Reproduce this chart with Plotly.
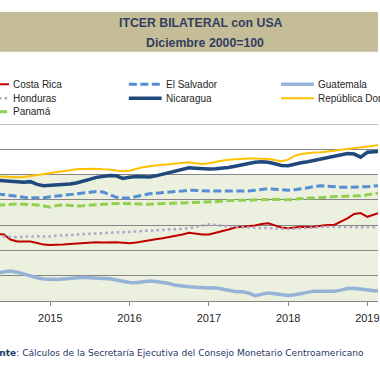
import plotly.graph_objects as go
import pandas as pd

# Monthly dates (May 2014 - Mar 2019)
dates = pd.date_range("2014-05-01", "2019-03-01", freq="MS")

costa_rica = [76.5, 76.3, 74.3, 73.5, 73.5, 73.5, 72.9, 72.3, 72.1, 72.1, 72.3, 72.5, 72.7, 72.9, 73.1, 73.2,
              73.1, 73.2, 73.2, 73.0, 72.8, 73.1, 73.6, 74.1, 74.4, 74.8, 75.2, 75.7, 76.3, 77.0, 76.7, 76.3,
              76.3, 76.9, 77.4, 78.3, 79.1, 79.4, 79.4, 79.9, 80.5, 80.7, 79.9, 79.1, 78.8, 79.1, 79.4, 79.3,
              79.4, 79.8, 80.1, 80.1, 81.3, 82.7, 84.4, 84.8, 83.3, 84.1, 85.0]
el_salvador = [92.4, 92.0, 91.6, 91.2, 91.0, 90.8, 90.7, 90.8, 91.2, 91.5, 91.8, 92.0, 92.3, 92.6, 93.0, 93.3,
               93.1, 92.0, 91.0, 90.7, 90.7, 91.3, 91.9, 92.4, 92.6, 92.8, 92.9, 93.2, 93.5, 93.8, 93.6, 93.5,
               93.5, 93.5, 93.5, 93.5, 93.5, 93.5, 93.5, 93.8, 94.2, 94.4, 94.2, 94.0, 93.8, 94.0, 94.3, 94.8,
               95.3, 95.6, 95.4, 95.1, 95.0, 95.0, 95.0, 95.0, 95.2, 95.5, 95.6]
guatemala = [61.1, 61.6, 61.9, 61.4, 60.6, 59.9, 59.2, 58.7, 58.5, 58.5, 58.7, 59.0, 59.4, 59.4, 59.2, 58.9,
             58.9, 58.8, 58.3, 57.7, 57.3, 57.2, 57.7, 57.9, 57.7, 57.4, 56.9, 56.2, 55.8, 55.6, 55.4, 55.1,
             55.1, 55.2, 54.7, 54.1, 53.8, 53.7, 53.2, 52.1, 52.5, 53.2, 52.9, 52.5, 52.2, 52.5, 53.0, 53.5,
             53.9, 53.9, 53.9, 53.9, 54.3, 54.9, 55.0, 54.6, 54.3, 54.1, 54.0]
honduras = [75.7, 75.5, 75.1, 75.2, 75.4, 75.6, 75.6, 75.5, 75.5, 75.8, 76.0, 76.2, 76.4, 76.5, 76.6, 76.7,
            76.8, 76.9, 77.0, 77.2, 77.4, 77.5, 77.7, 77.8, 77.9, 78.1, 78.3, 78.4, 78.6, 78.8, 79.3, 79.9,
            80.3, 80.1, 79.7, 79.4, 79.3, 79.2, 79.0, 78.9, 78.8, 78.8, 78.7, 78.6, 78.5, 78.6, 78.8, 79.0,
            79.2, 79.3, 79.4, 79.3, 79.2, 79.2, 79.2, 79.2, 79.2, 79.2, 79.2]
nicaragua = [97.7, 97.5, 97.1, 96.9, 97.0, 97.2, 96.1, 95.6, 95.7, 95.9, 96.0, 96.3, 96.7, 97.3, 98.1, 98.9,
             99.3, 99.6, 99.5, 98.5, 98.9, 99.2, 99.1, 99.0, 99.5, 100.1, 100.6, 101.3, 102.1, 102.7, 102.5, 102.2,
             102.2, 102.3, 102.5, 102.8, 103.3, 103.9, 104.6, 104.9, 105.1, 104.9, 104.3, 103.6, 103.5, 104.2, 104.7, 105.1,
             105.6, 106.2, 106.8, 107.4, 107.9, 108.3, 108.1, 106.9, 108.8, 109.0, 109.2]
rep_dom = [99.3, 99.1, 99.0, 98.9, 99.0, 99.4, 99.8, 100.3, 100.7, 101.1, 101.5, 101.8, 102.1, 102.2, 102.3, 102.3,
           102.1, 102.0, 101.6, 101.3, 101.5, 102.3, 102.9, 103.3, 103.7, 103.9, 104.1, 104.3, 104.5, 104.9, 104.5, 104.2,
           104.5, 105.1, 105.5, 105.9, 106.1, 106.3, 106.4, 106.4, 106.3, 106.2, 105.8, 105.3, 105.9, 107.5, 108.1, 108.5,
           108.7, 108.8, 109.0, 109.4, 109.8, 110.1, 110.3, 110.5, 110.8, 111.4, 111.8]
panama = [87.9, 88.1, 88.3, 88.4, 88.3, 88.2, 88.0, 87.6, 87.1, 87.8, 88.0, 87.8, 87.6, 87.7, 87.9, 88.0,
          88.2, 88.4, 88.6, 88.6, 88.4, 88.3, 88.3, 88.3, 88.4, 88.5, 88.6, 88.7, 88.8, 88.8, 88.8, 88.9,
          89.0, 89.2, 89.4, 89.7, 89.8, 89.9, 90.0, 90.1, 90.2, 90.3, 90.2, 90.1, 90.0, 90.3, 90.5, 90.7,
          90.8, 90.9, 91.1, 91.3, 91.4, 91.6, 91.6, 91.6, 92.0, 92.4, 92.7]

series = [
    ("Costa Rica", costa_rica, "#C00000", 2, "solid"),
    ("El Salvador", el_salvador, "#558ED5", 3, "8px,3.5px"),
    ("Guatemala", guatemala, "#95B3D7", 3.5, "solid"),
    ("Honduras", honduras, "#B3A2C7", 2.5, "2.5px,3.2px"),
    ("Nicaragua", nicaragua, "#1F497D", 3.5, "solid"),
    ("República Dominicana", rep_dom, "#FFC000", 2, "solid"),
    ("Panamá", panama, "#92D050", 3, "8px,3.5px"),
]

year_ticks = ["2015-01-01", "2016-01-01", "2017-01-01", "2018-01-01", "2019-01-01"]
year_labels = ["2015", "2016", "2017", "2018", "2019"]

W, H = 380, 372
T, B = 124, 71
PH = H - T - B


def px_x(px):
    return px / W


def px_y(py):
    return (H - B - py) / PH


fig = go.Figure()
for name, vals, color, width, dash in series:
    fig.add_trace(go.Scatter(x=dates, y=vals, mode="lines", name=name,
                             line=dict(color=color, width=width, dash=dash),
                             showlegend=False, hoverinfo="skip"))

shapes = []
# shaded band below 100
shapes.append(dict(type="rect", xref="paper", yref="y", x0=0, x1=1, y0=50, y1=100,
                   fillcolor="#EBF1DE", line=dict(width=0), layer="below"))
# top gridline (range edge)
shapes.append(dict(type="line", xref="paper", yref="y", x0=0, x1=1, y0=120, y1=120,
                   line=dict(color="#868686", width=1), layer="below"))
# title band
shapes.append(dict(type="rect", xref="paper", yref="paper", x0=0, x1=1,
                   y0=px_y(51.7), y1=px_y(12), fillcolor="#C4BD97", line=dict(width=0)))

title_font = dict(family="Liberation Sans", size=12.3, color="#333F5F")
annotations = [
    dict(text="<b>ITCER BILATERAL con USA</b>", x=px_x(202), y=px_y(23.3), xref="paper", yref="paper",
         yanchor="middle", showarrow=False, font=title_font),
    dict(text="<b>Diciembre 2000=100</b>", x=px_x(206.5), y=px_y(43.3), xref="paper", yref="paper",
         yanchor="middle", showarrow=False, font=title_font),
    dict(text="<b>Fuente</b>: Cálculos de la Secretaría Ejecutiva del Consejo Monetario Centroamericano",
         x=px_x(368), y=px_y(353), xref="paper", yref="paper", xanchor="right", yanchor="middle",
         showarrow=False, font=dict(family="DejaVu Sans", size=9.05, color="#1F3864")),
]

# manual legend
legend_layout = [
    ("Costa Rica", -24, 84.3), ("El Salvador", 129.5, 84.3), ("Guatemala", 282.5, 84.3),
    ("Honduras", -24, 98.3), ("Nicaragua", 129.5, 98.3), ("República Dominicana", 282.5, 98.3),
    ("Panamá", -24, 111.7),
]
style = {s[0]: s for s in series}
for name, lx, ly in legend_layout:
    _, _, color, width, dash = style[name]
    shapes.append(dict(type="line", xref="paper", yref="paper", x0=px_x(lx), x1=px_x(lx + 33),
                       y0=px_y(ly), y1=px_y(ly), line=dict(color=color, width=width, dash=dash)))
    annotations.append(dict(text=name, x=px_x(lx + 35.5), y=px_y(ly), xref="paper", yref="paper",
                            xanchor="left", yanchor="middle", showarrow=False,
                            font=dict(family="Liberation Sans", size=10, color="#262626")))

fig.update_layout(
    width=W, height=H,
    margin=dict(l=0, r=0, t=T, b=B, pad=0),
    paper_bgcolor="white", plot_bgcolor="white",
    shapes=shapes, annotations=annotations,
    hovermode=False,
    xaxis=dict(type="date", range=["2014-05-14", "2019-02-19"], tickvals=year_ticks, ticktext=year_labels,
               showgrid=False, showline=True, linecolor="#868686", linewidth=1,
               ticks="outside", ticklen=4, tickcolor="#868686", ticklabelstandoff=3,
               ticklabeloverflow="allow",
               tickfont=dict(family="Liberation Sans", size=11, color="#262626")),
    yaxis=dict(range=[50, 120], dtick=10, showticklabels=False, showgrid=True,
               gridcolor="#868686", gridwidth=1, zeroline=False, showline=False),
)

fig.write_html("out.html", config={"displayModeBar": False},
               post_script="document.body.style.margin='0px';")
